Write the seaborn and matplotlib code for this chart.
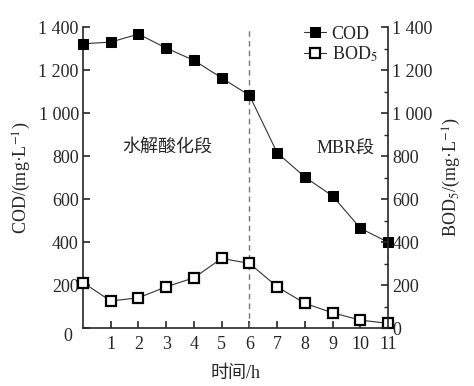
import numpy as np
import pandas as pd
import seaborn as sns
import matplotlib.pyplot as plt
from matplotlib.ticker import MultipleLocator

# data
hours = [0, 1, 2, 3, 4, 5, 6, 7, 8, 9, 10, 11]
cod = [1322, 1330, 1367, 1302, 1245, 1163, 1082, 815, 702, 614, 464, 399]
bod5 = [212, 126, 141, 192, 234, 324, 301, 192, 115, 71, 37, 22]
xticks = [1, 2, 3, 4, 5, 6, 7, 8, 9, 10, 11]
yticks = [0, 200, 400, 600, 800, 1000, 1200, 1400]
ytick_labels = ["0", "200", "400", "600", "800", "1 000", "1 200", "1 400"]

df = pd.DataFrame({"h": hours, "COD": cod, "BOD": bod5})

sns.set_style("ticks")
plt.rcParams['font.family'] = ['Liberation Serif', 'Noto Sans CJK SC']
plt.rcParams['mathtext.fontset'] = 'stix'
plt.rcParams['axes.linewidth'] = 1.2

fig = plt.figure(figsize=(4.74, 3.86), dpi=100)
ax = fig.add_axes([0.175, 0.150, 0.644, 0.780])

# dashed separator at 6 h
ax.axvline(6, color="#777777", ls=(0, (4, 3)), lw=1.0, zorder=1)

sns.lineplot(data=df, x="h", y="COD", ax=ax, color="#333333", lw=0.8,
             marker="s", markersize=7.5, markerfacecolor="black",
             markeredgecolor="black", label="COD", zorder=3, clip_on=False)
sns.lineplot(data=df, x="h", y="BOD", ax=ax, color="#333333", lw=0.8,
             marker="s", markersize=7.5, markerfacecolor="white",
             markeredgecolor="black", markeredgewidth=1.6,
             label="BOD$_5$", zorder=3, clip_on=False)

ax.set_xlim(0, 11)
ax.set_ylim(0, 1400)
ax.set_xticks(xticks)
ax.set_yticks(yticks)
# left "0" sits at the corner, a bit below the axis
ax.set_yticklabels([""] + ytick_labels[1:])
ax.annotate("0", xy=(0, 0), xycoords="axes fraction", xytext=(-8, -6),
            textcoords="offset points", ha="right", va="center", fontsize=13)
ax.tick_params(direction="in", length=5, width=1.2, labelsize=13, pad=3)
ax.tick_params(axis="x", pad=6)
ax.set_xlabel("时间/h", fontsize=13, labelpad=8)
ax.set_ylabel("COD/(mg·L$^{-1}$)", fontsize=13, labelpad=4)
sns.despine(ax=ax, top=True, right=True)

ax2 = ax.twinx()
ax2.set_ylim(0, 1400)
ax2.set_yticks(yticks)
ax2.set_yticklabels(ytick_labels)
ax2.yaxis.set_minor_locator(MultipleLocator(100))
ax2.tick_params(direction="in", length=5, width=1.2, labelsize=13, pad=3)
ax2.tick_params(which="minor", direction="in", length=3, width=1.0)
ax2.set_ylabel("BOD$_5$/(mg·L$^{-1}$)", fontsize=13, labelpad=6)
for s in ["top", "left", "bottom"]:
    ax2.spines[s].set_visible(False)

ax.text(3.05, 840, "水解酸化段", fontsize=13, ha="center", va="center")
ax.text(9.45, 830, "MBR段", fontsize=13, ha="center", va="center")

leg = ax.legend(loc="upper right", bbox_to_anchor=(1.0, 1.04), frameon=False,
                fontsize=13, handlelength=1.2, handletextpad=0.3,
                labelspacing=0.1, borderaxespad=0.2)

fig.savefig("out.png", dpi=100)
